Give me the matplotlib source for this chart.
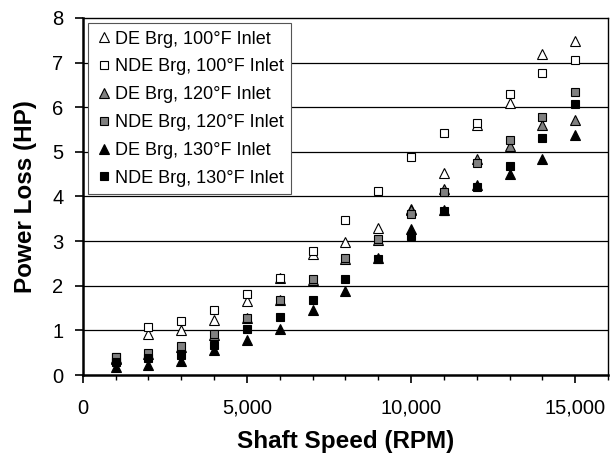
import numpy as np
import matplotlib
matplotlib.use('Agg')
import matplotlib.pyplot as plt
from matplotlib.ticker import MultipleLocator, FuncFormatter

plt.rcParams['font.family'] = ['Liberation Sans', 'DejaVu Sans']

# shaft speed (RPM) and power loss (HP)
speed = [1000, 2000, 3000, 4000, 5000, 6000, 7000, 8000, 9000, 10000, 11000, 12000, 13000, 14000, 15000]
de100 = [0.37, 0.91, 1.00, 1.23, 1.65, 2.17, 2.72, 2.97, 3.29, 3.72, 4.53, 5.60, 6.09, 7.20, 7.49]
nde100 = [0.40, 1.08, 1.20, 1.45, 1.82, 2.18, 2.77, 3.48, 4.13, 4.89, 5.42, 5.65, 6.29, 6.76, 7.05]
de120 = [0.35, 0.48, 0.62, 0.90, 1.27, 1.68, 2.12, 2.60, 3.02, 3.70, 4.17, 4.85, 5.13, 5.60, 5.71]
nde120 = [0.41, 0.50, 0.64, 0.92, 1.28, 1.69, 2.14, 2.63, 3.04, 3.61, 4.11, 4.76, 5.27, 5.77, 6.35]
de130 = [0.17, 0.22, 0.31, 0.57, 0.78, 1.04, 1.45, 1.88, 2.62, 3.27, 3.70, 4.25, 4.50, 4.84, 5.38]
nde130 = [0.30, 0.38, 0.45, 0.68, 1.02, 1.29, 1.69, 2.14, 2.59, 3.12, 3.67, 4.22, 4.69, 5.31, 6.06]

labels = ['DE Brg, 100°F Inlet', 'NDE Brg, 100°F Inlet',
          'DE Brg, 120°F Inlet', 'NDE Brg, 120°F Inlet',
          'DE Brg, 130°F Inlet', 'NDE Brg, 130°F Inlet']

fig = plt.figure(figsize=(6.13, 4.59), dpi=100)
ax = fig.add_axes([0.135, 0.183, 0.857, 0.778])

series = [de100, nde100, de120, nde120, de130, nde130]
markers = ['^', 's', '^', 's', '^', 's']
faces = ['white', 'white', '#808080', '#808080', 'black', 'black']
for vals, m, fc, lab in zip(series, markers, faces, labels):
    ms = 6.8 if m == '^' else 5.6
    ax.plot(speed, vals, linestyle='none', marker=m, ms=ms, mfc=fc,
            mec='black', mew=0.8, label=lab)

for yv in range(1, 8):
    ax.axhline(yv, color='black', lw=0.9, zorder=0)

ax.set_xlim(0, 16000)
ax.set_ylim(0, 8)
ax.xaxis.set_major_locator(MultipleLocator(5000))
ax.xaxis.set_minor_locator(MultipleLocator(1000))
ax.yaxis.set_major_locator(MultipleLocator(1))
ax.xaxis.set_major_formatter(FuncFormatter(lambda v, p: f'{int(v):,}'))
ax.tick_params(axis='both', which='major', labelsize=14.5, direction='out',
               length=6, width=1.2)
ax.tick_params(axis='x', which='major', pad=11)
ax.tick_params(axis='y', which='major', pad=8)
ax.tick_params(axis='x', which='minor', direction='out', length=3.5, width=1)

for s in ['left', 'bottom']:
    ax.spines[s].set_linewidth(1.8)
for s in ['top', 'right']:
    ax.spines[s].set_linewidth(1.0)

ax.set_xlabel('Shaft Speed (RPM)', fontsize=17.5, fontweight='bold', labelpad=9)
ax.set_ylabel('Power Loss (HP)', fontsize=17.5, fontweight='bold', labelpad=11)

leg = ax.legend(loc='upper left', fontsize=13, frameon=True, fancybox=False,
                edgecolor='#555555', framealpha=1, handletextpad=0.1,
                borderpad=0.4, labelspacing=0.6, handlelength=1.0,
                borderaxespad=0.3)
leg.get_frame().set_linewidth(0.8)

fig.savefig('out.png', dpi=100)
